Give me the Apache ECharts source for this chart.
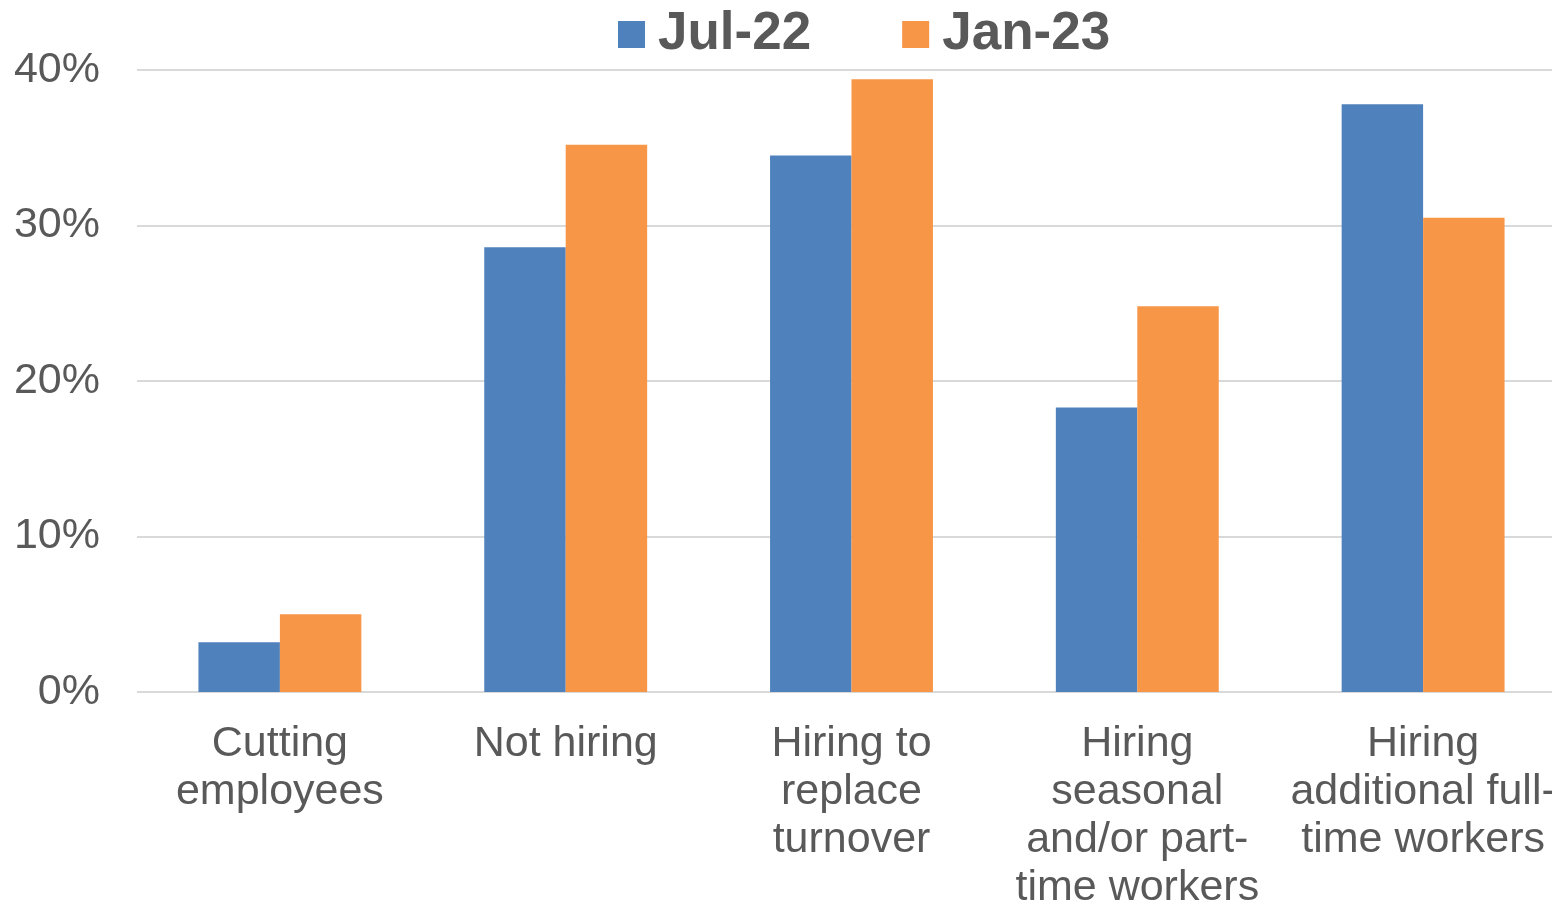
<!DOCTYPE html>
<html>
<head>
<meta charset="utf-8">
<script src="https://cdn.jsdelivr.net/npm/echarts@6/dist/echarts.min.js"></script>
<style>
   html, body { margin: 0; padding: 0; background: #ffffff; overflow: hidden; }
   #chart { width: 1566px; height: 905px; }
</style>
</head>
<body>
<div id="chart"></div>
<script>

// categories (line breaks as in the picture)
const categories = [
   'Cutting\nemployees',
   'Not hiring',
   'Hiring to\nreplace\nturnover',
   'Hiring\nseasonal\nand/or part-\ntime workers',
   'Hiring\nadditional full-\ntime workers'
];

const seriesNames = ['Jul-22', 'Jan-23'];

// percent values
const jul22 = [3.2, 28.6, 34.5, 18.3, 37.8];
const jan23 = [5.0, 35.2, 39.4, 24.8, 30.5];

const yTicks = [0, 10, 20, 30, 40];

const textColor = '#595959';
const fontName = '"Liberation Sans", Arial, sans-serif';

const chart = echarts.init(document.getElementById('chart'));

var option =
{
   animation: false,
   legend:
   {
      data: seriesNames,
      top: 3,
      left: 613,
      icon: 'rect',
      itemWidth: 27,
      itemHeight: 27,
      itemGap: 91,
      textStyle:
      {
         color: textColor,
         fontFamily: fontName,
         fontSize: 53,
         fontWeight: 'bold',
         padding: [4, 0, 0, 8]
      }
   },
   grid:
   {
      left: 137,
      right: 0,
      top: 70,
      bottom: 213,
      containLabel: false,
      outerBoundsMode: 'none'
   },
   xAxis:
   {
      type: 'category',
      data: categories,
      axisTick: { show: false },
      axisLine: { show: false },
      axisLabel:
      {
         interval: 0,
         color: textColor,
         fontFamily: fontName,
         fontSize: 43,
         lineHeight: 48,
         margin: 28
      }
   },
   yAxis:
   {
      type: 'value',
      min: yTicks[0],
      max: yTicks[yTicks.length - 1],
      interval: 10,
      axisLine: { show: false },
      axisTick: { show: false },
      splitLine: { lineStyle: { color: '#d9d9d9', width: 2 } },
      axisLabel:
      {
         color: textColor,
         fontFamily: fontName,
         fontSize: 43,
         margin: 37,
         formatter: '{value}%'
      }
   },
   series:
   [
      {
         name: seriesNames[0],
         type: 'bar',
         data: jul22,
         barGap: '0%',
         barCategoryGap: '43%',
         itemStyle: { color: '#4f81bd' }
      },
      {
         name: seriesNames[1],
         type: 'bar',
         data: jan23,
         barGap: '0%',
         barCategoryGap: '43%',
         itemStyle: { color: '#f79646' }
      }
   ]
};

chart.setOption(option);

</script>
</body>
</html>
